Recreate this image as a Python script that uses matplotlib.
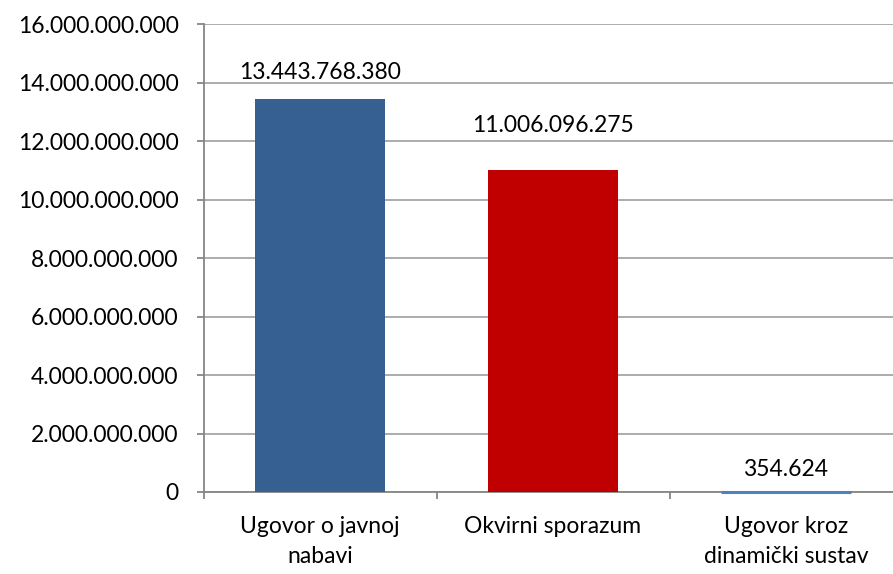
import matplotlib.pyplot as plt
from matplotlib.ticker import FuncFormatter, FixedLocator

categories = ["Ugovor o javnoj\nnabavi", "Okvirni sporazum", "Ugovor kroz\ndinamički sustav"]
values = [13443768380, 11006096275, 354624]
colors = ["#376092", "#C00000", "#4F81BD"]
label_offsets = [19, 32, 16]  # points from bar top to label centre

plt.rcParams['font.family'] = ['Lato', 'DejaVu Sans']
FS = 16.5


def dot_fmt(v, pos=None):
    return f"{int(round(v)):,}".replace(",", ".")


fig = plt.figure(figsize=(8.93, 5.74), dpi=100)
ax = fig.add_axes([203.5 / 893, 82 / 574, 699 / 893, 468 / 574])

x = range(len(categories))
bars = ax.bar(x, values, width=0.56, color=colors, zorder=3)
# tiny third bar still shows as a thin line, like in the original
bars[2].set_edgecolor(colors[2])
bars[2].set_linewidth(2.2)
bars[2].set_zorder(4)
bars[2].set_clip_on(False)

for xi, v, off in zip(x, values, label_offsets):
    ax.annotate(dot_fmt(v), (xi, v), xytext=(0, off), textcoords="offset points",
                ha="center", va="center", fontsize=FS, color="#000000")

ax.set_xlim(-0.5, 2.5)
ax.set_ylim(0, 16e9)
ax.set_yticks([i * 2e9 for i in range(9)])
ax.yaxis.set_major_formatter(FuncFormatter(dot_fmt))
ax.yaxis.grid(True, color="#A6A6A6", linewidth=1.3, zorder=0)

ax.set_xticks(list(x))
ax.set_xticklabels(categories, fontsize=FS, linespacing=1.55)
ax.xaxis.set_minor_locator(FixedLocator([-0.5, 0.5, 1.5, 2.5]))
ax.tick_params(axis="x", which="major", length=0, pad=17)
ax.tick_params(axis="x", which="minor", length=5, width=1.3, color="#868686")
ax.tick_params(axis="y", length=5, width=1.3, color="#868686", labelsize=FS, pad=13)

for s in ["top", "right"]:
    ax.spines[s].set_visible(False)
for s in ["left", "bottom"]:
    ax.spines[s].set_color("#868686")
    ax.spines[s].set_linewidth(1.3)

fig.savefig("out.png", dpi=100)
